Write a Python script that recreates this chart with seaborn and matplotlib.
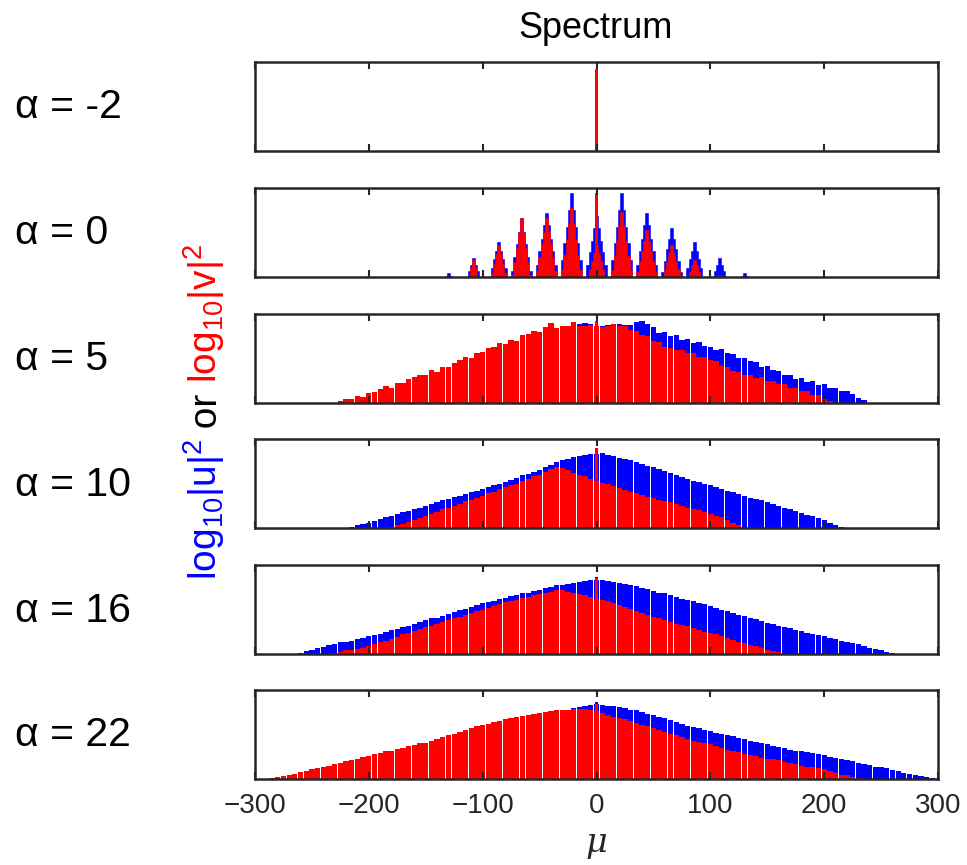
import numpy as np
import pandas as pd
import matplotlib
matplotlib.use("Agg")
import matplotlib.pyplot as plt
import seaborn as sns

sns.set_theme(style="white")
plt.rcParams["font.family"] = ["Liberation Sans", "DejaVu Sans"]
plt.rcParams["mathtext.default"] = "regular"
plt.rcParams["axes.unicode_minus"] = True

# ---------------- data (heights as fraction of the panel's log-scale range) ---------------
alpha_labels = ["α = -2", "α = 0", "α = 5", "α = 10", "α = 16", "α = 22"]
x_ticks = [-300, -200, -100, 0, 100, 200, 300]

# narrow central line at mu = 0 in every panel
spike_u = [0.0, 0.0, 0.0, 0.0, 0.87, 0.86]
spike_v = [0.92, 0.94, 0.92, 0.90, 0.85, 0.84]

# alpha = 0 : comb spectrum, 2-unit grid starting at mu = -134
comb_start = -134
comb_step = 2
u_a0 = [0, 0.01, 0.04, 0.01, 0, 0, 0, 0, 0, 0,
        0, 0.07, 0.14, 0.21, 0.14, 0.07, 0, 0, 0, 0,
        0, 0.10, 0.20, 0.29, 0.39, 0.29, 0.20, 0.10, 0, 0,
        0.07, 0.22, 0.37, 0.51, 0.66, 0.51, 0.37, 0.22, 0.07, 0,
        0, 0.14, 0.29, 0.43, 0.58, 0.72, 0.58, 0.43, 0.29, 0.14,
        0, 0, 0.19, 0.38, 0.56, 0.75, 0.94, 0.75, 0.56, 0.38,
        0.19, 0, 0, 0.14, 0.28, 0.41, 0.55, 0.69, 0.55, 0.41,
        0.28, 0.14, 0, 0, 0.19, 0.38, 0.56, 0.75, 0.94, 0.75,
        0.56, 0.38, 0.19, 0, 0, 0.14, 0.29, 0.43, 0.58, 0.72,
        0.58, 0.43, 0.29, 0.14, 0, 0, 0.06, 0.18, 0.31, 0.43,
        0.55, 0.43, 0.31, 0.18, 0.06, 0, 0, 0.10, 0.20, 0.29,
        0.39, 0.29, 0.20, 0.10, 0, 0, 0, 0, 0, 0.07,
        0.14, 0.21, 0.14, 0.07, 0, 0, 0, 0, 0, 0,
        0, 0.01, 0.04, 0.01, 0]
v_a0 = [0, 0, 0, 0, 0, 0, 0, 0, 0, 0,
        0, 0, 0.10, 0.19, 0.10, 0, 0, 0, 0, 0,
        0, 0.05, 0.15, 0.26, 0.36, 0.26, 0.15, 0.05, 0, 0,
        0.02, 0.17, 0.33, 0.50, 0.66, 0.50, 0.33, 0.17, 0.02, 0,
        0, 0.07, 0.22, 0.37, 0.51, 0.66, 0.51, 0.37, 0.22, 0.07,
        0, 0, 0.08, 0.25, 0.43, 0.60, 0.77, 0.60, 0.43, 0.25,
        0.08, 0, 0, 0, 0.09, 0.18, 0.27, 0.36, 0.27, 0.18,
        0.09, 0, 0, 0, 0.08, 0.24, 0.41, 0.57, 0.73, 0.57,
        0.41, 0.24, 0.08, 0, 0, 0.06, 0.18, 0.29, 0.41, 0.53,
        0.41, 0.29, 0.18, 0.06, 0, 0, 0, 0.09, 0.18, 0.27,
        0.36, 0.27, 0.18, 0.09, 0, 0, 0, 0, 0.06, 0.13,
        0.19, 0.13, 0.06, 0, 0, 0, 0, 0, 0, 0,
        0, 0.02, 0, 0, 0, 0, 0, 0, 0, 0,
        0, 0, 0, 0, 0]

# alpha = 5, 10, 16, 22 : 5-unit grid
spec_step = 5
u_a5_start = -220
u_a5 = [0.01, 0.02, 0.04, 0.05, 0.07, 0.10, 0.12, 0.15, 0.16, 0.19,
        0.21, 0.23, 0.26, 0.28, 0.30, 0.33, 0.34, 0.37, 0.39, 0.41,
        0.45, 0.48, 0.50, 0.52, 0.55, 0.58, 0.61, 0.63, 0.65, 0.67,
        0.68, 0.72, 0.75, 0.77, 0.79, 0.81, 0.84, 0.83, 0.84, 0.86,
        0.88, 0.89, 0.90, 0.89, 0.87, 0.87, 0.88, 0.89, 0.89, 0.88,
        0.88, 0.91, 0.92, 0.89, 0.85, 0.79, 0.80, 0.75, 0.76, 0.71,
        0.72, 0.67, 0.68, 0.64, 0.63, 0.60, 0.61, 0.56, 0.55, 0.51,
        0.50, 0.47, 0.46, 0.41, 0.42, 0.37, 0.36, 0.32, 0.31, 0.27,
        0.28, 0.24, 0.25, 0.20, 0.21, 0.17, 0.17, 0.14, 0.14, 0.10,
        0.06, 0.03]
v_a5_start = -225
v_a5 = [0.02, 0.05, 0.04, 0.08, 0.07, 0.11, 0.12, 0.16, 0.19, 0.17,
        0.23, 0.22, 0.27, 0.29, 0.32, 0.31, 0.37, 0.35, 0.41, 0.40,
        0.45, 0.48, 0.52, 0.51, 0.56, 0.57, 0.62, 0.63, 0.67, 0.66,
        0.71, 0.70, 0.76, 0.78, 0.81, 0.80, 0.85, 0.90, 0.84, 0.86,
        0.87, 0.91, 0.87, 0.86, 0.88, 0.87, 0.85, 0.87, 0.89, 0.86,
        0.86, 0.82, 0.81, 0.76, 0.75, 0.70, 0.68, 0.63, 0.62, 0.59,
        0.59, 0.56, 0.56, 0.52, 0.52, 0.48, 0.47, 0.42, 0.41, 0.36,
        0.35, 0.31, 0.32, 0.28, 0.29, 0.25, 0.25, 0.21, 0.21, 0.17,
        0.17, 0.13, 0.13, 0.09, 0.09, 0.05, 0.02]

u_a10_start = -215
u_a10 = [0.01, 0.03, 0.04, 0.06, 0.08, 0.10, 0.12, 0.14, 0.16, 0.18,
         0.19, 0.21, 0.23, 0.25, 0.27, 0.29, 0.31, 0.33, 0.35, 0.36,
         0.38, 0.40, 0.42, 0.44, 0.46, 0.48, 0.50, 0.52, 0.54, 0.56,
         0.59, 0.61, 0.63, 0.65, 0.68, 0.71, 0.74, 0.76, 0.78, 0.80,
         0.81, 0.82, 0.83, 0.83, 0.84, 0.82, 0.81, 0.79, 0.77, 0.76,
         0.74, 0.72, 0.70, 0.68, 0.66, 0.64, 0.62, 0.60, 0.57, 0.55,
         0.53, 0.52, 0.50, 0.48, 0.46, 0.44, 0.42, 0.40, 0.38, 0.36,
         0.34, 0.33, 0.31, 0.29, 0.27, 0.25, 0.23, 0.21, 0.19, 0.17,
         0.15, 0.13, 0.11, 0.09, 0.06, 0.03, 0.01]
v_a10_start = -180
v_a10 = [0.01, 0.03, 0.05, 0.07, 0.09, 0.11, 0.14, 0.16, 0.18, 0.21,
         0.23, 0.25, 0.27, 0.30, 0.32, 0.34, 0.36, 0.39, 0.41, 0.44,
         0.46, 0.48, 0.50, 0.53, 0.55, 0.58, 0.60, 0.63, 0.66, 0.69,
         0.67, 0.65, 0.62, 0.60, 0.58, 0.55, 0.53, 0.51, 0.49, 0.47,
         0.45, 0.43, 0.41, 0.39, 0.37, 0.35, 0.34, 0.32, 0.30, 0.29,
         0.27, 0.25, 0.23, 0.21, 0.20, 0.18, 0.16, 0.14, 0.12, 0.09,
         0.06, 0.03]

u_a16_start = -260
u_a16 = [0.01, 0.03, 0.05, 0.07, 0.08, 0.10, 0.11, 0.13, 0.14, 0.15,
         0.17, 0.18, 0.20, 0.21, 0.23, 0.25, 0.27, 0.28, 0.30, 0.32,
         0.34, 0.36, 0.38, 0.40, 0.41, 0.43, 0.45, 0.47, 0.49, 0.51,
         0.53, 0.55, 0.57, 0.58, 0.60, 0.62, 0.63, 0.65, 0.66, 0.68,
         0.69, 0.71, 0.72, 0.74, 0.75, 0.77, 0.78, 0.79, 0.80, 0.81,
         0.82, 0.83, 0.83, 0.83, 0.82, 0.81, 0.80, 0.79, 0.77, 0.76,
         0.74, 0.73, 0.71, 0.69, 0.68, 0.66, 0.64, 0.62, 0.61, 0.59,
         0.57, 0.56, 0.54, 0.52, 0.50, 0.48, 0.46, 0.44, 0.43, 0.41,
         0.39, 0.37, 0.35, 0.34, 0.32, 0.30, 0.29, 0.27, 0.26, 0.24,
         0.23, 0.21, 0.20, 0.18, 0.17, 0.15, 0.14, 0.12, 0.11, 0.09,
         0.07, 0.06, 0.04, 0.02, 0.01]
v_a16_start = -230
v_a16 = [0.01, 0.02, 0.04, 0.05, 0.06, 0.07, 0.09, 0.11, 0.13, 0.15,
         0.17, 0.19, 0.22, 0.24, 0.26, 0.28, 0.30, 0.32, 0.34, 0.36,
         0.38, 0.40, 0.42, 0.44, 0.46, 0.48, 0.50, 0.52, 0.54, 0.56,
         0.58, 0.59, 0.61, 0.63, 0.64, 0.66, 0.67, 0.69, 0.70, 0.72,
         0.72, 0.70, 0.69, 0.67, 0.66, 0.64, 0.62, 0.61, 0.59, 0.57,
         0.55, 0.53, 0.51, 0.48, 0.46, 0.44, 0.42, 0.40, 0.38, 0.36,
         0.34, 0.33, 0.31, 0.29, 0.27, 0.25, 0.24, 0.22, 0.20, 0.18,
         0.16, 0.14, 0.12, 0.10, 0.09, 0.07, 0.05, 0.03, 0.02]

u_a22_start = -285
u_a22 = [0.01, 0.01, 0.02, 0.04, 0.05, 0.07, 0.08, 0.10, 0.11, 0.13,
         0.14, 0.16, 0.17, 0.19, 0.20, 0.22, 0.24, 0.25, 0.27, 0.28,
         0.30, 0.31, 0.33, 0.34, 0.36, 0.37, 0.39, 0.40, 0.42, 0.44,
         0.46, 0.48, 0.50, 0.52, 0.54, 0.56, 0.58, 0.60, 0.61, 0.63,
         0.64, 0.66, 0.67, 0.69, 0.70, 0.71, 0.72, 0.73, 0.74, 0.75,
         0.76, 0.77, 0.78, 0.80, 0.81, 0.82, 0.83, 0.84, 0.83, 0.82,
         0.82, 0.81, 0.80, 0.78, 0.77, 0.75, 0.73, 0.72, 0.70, 0.68,
         0.66, 0.64, 0.62, 0.60, 0.58, 0.57, 0.55, 0.54, 0.52, 0.51,
         0.49, 0.48, 0.46, 0.45, 0.43, 0.42, 0.40, 0.39, 0.37, 0.36,
         0.35, 0.33, 0.32, 0.31, 0.30, 0.29, 0.28, 0.27, 0.25, 0.24,
         0.23, 0.21, 0.20, 0.18, 0.17, 0.16, 0.14, 0.13, 0.12, 0.10,
         0.09, 0.07, 0.06, 0.04, 0.03, 0.02, 0.01]
v_a22_start = -285
v_a22 = [0.01, 0.02, 0.03, 0.05, 0.06, 0.08, 0.09, 0.11, 0.12, 0.14,
         0.15, 0.17, 0.18, 0.20, 0.21, 0.23, 0.25, 0.26, 0.28, 0.29,
         0.31, 0.32, 0.34, 0.35, 0.37, 0.38, 0.40, 0.41, 0.43, 0.45,
         0.47, 0.49, 0.51, 0.53, 0.55, 0.57, 0.59, 0.61, 0.62, 0.64,
         0.65, 0.67, 0.68, 0.70, 0.71, 0.72, 0.73, 0.74, 0.75, 0.76,
         0.77, 0.78, 0.78, 0.79, 0.79, 0.79, 0.78, 0.76, 0.74, 0.72,
         0.70, 0.69, 0.67, 0.65, 0.63, 0.61, 0.59, 0.57, 0.55, 0.53,
         0.51, 0.49, 0.47, 0.45, 0.43, 0.42, 0.40, 0.39, 0.37, 0.35,
         0.33, 0.31, 0.30, 0.28, 0.27, 0.26, 0.24, 0.23, 0.22, 0.21,
         0.19, 0.18, 0.17, 0.15, 0.14, 0.13, 0.12, 0.11, 0.09, 0.07,
         0.05, 0.04, 0.02, 0.01]

panels = [
    None,
    (comb_start, comb_step, u_a0, comb_start, comb_step, v_a0),
    (u_a5_start, spec_step, u_a5, v_a5_start, spec_step, v_a5),
    (u_a10_start, spec_step, u_a10, v_a10_start, spec_step, v_a10),
    (u_a16_start, spec_step, u_a16, v_a16_start, spec_step, v_a16),
    (u_a22_start, spec_step, u_a22, v_a22_start, spec_step, v_a22),
]

BLUE = (0, 0, 1)
RED = (1, 0, 0)
FRAME = "#262626"


def draw_series(ax, start, step, vals, color, shrink, lw):
    mu = start + step * np.arange(len(vals))
    df = pd.DataFrame({"mu": mu.astype(float), "val": vals})
    lo = mu[0] - step / 2
    hi = mu[-1] + step / 2
    sns.histplot(data=df, x="mu", weights="val", binwidth=step,
                 binrange=(lo, hi), ax=ax,
                 color=color, alpha=1, linewidth=lw, edgecolor=color,
                 shrink=shrink, element="bars", fill=True, stat="count")


fig = plt.figure(figsize=(9.67, 8.65), dpi=100)
W, H = 967.0, 865.0
left_px, right_px = 255, 938
tops = [62, 188, 314, 439, 565, 690]
ph = 89

axes = []
for i in range(6):
    ax = fig.add_axes([left_px / W, 1 - (tops[i] + ph) / H,
                       (right_px - left_px) / W, ph / H])
    axes.append(ax)
    p = panels[i]
    if p is not None:
        us, ust, uv, vs, vst, vv = p
        if ust == 2:
            shrink, lw = 1.0, 0.4
        else:
            shrink, lw = 0.93, 0
        draw_series(ax, us, ust, uv, BLUE, shrink, lw)
        draw_series(ax, vs, vst, vv, RED, shrink, lw)
    if spike_u[i] > 0:
        ax.bar([0], [spike_u[i]], width=2.2, color=BLUE, linewidth=0)
    ax.bar([0], [spike_v[i]], width=1.9, color=RED, linewidth=0)

    ax.set_xlim(-300, 300)
    ax.set_ylim(0, 1)
    ax.set_yticks([])
    ax.set_xticks(x_ticks)
    ax.set_axisbelow(False)
    ax.tick_params(axis="x", direction="in", length=5, width=1.5,
                   top=True, bottom=True, color=FRAME,
                   labelbottom=(i == 5), labelsize=20, labelcolor=FRAME, pad=10)
    ax.set_xlabel("")
    ax.set_ylabel("")
    for s in ax.spines.values():
        s.set_visible(True)
        s.set_linewidth(1.8)
        s.set_color(FRAME)
    # row label
    fig.text(15 / W, 1 - (tops[i] + ph / 2 + 1) / H, alpha_labels[i],
             fontsize=29.5, ha="left", va="center", color="black")

axes[5].set_xlabel("μ", fontsize=24, fontstyle="italic", color=FRAME,
                   labelpad=6, family=["DejaVu Serif"])
fig.text(596 / W, 1 - 28 / H, "Spectrum", fontsize=26, ha="center",
         va="center", color="black")

# multi-colour rotated y label
parts = [(r"log$_{10}$|u|$^{2}$", BLUE), (" or ", "black"),
         (r"log$_{10}$|v|$^{2}$", RED)]
fig.canvas.draw()
renderer = fig.canvas.get_renderer()
texts = []
lengths = []
for s, c in parts:
    t = fig.text(0, 0, s, rotation=90, rotation_mode="anchor", ha="left",
                 va="baseline", fontsize=28, color=c)
    bb = t.get_window_extent(renderer)
    lengths.append(bb.height / fig.bbox.height)
    texts.append(t)
total = sum(lengths)
y = (1 - 412 / H) - total / 2
xb = 217 / W
for t, L in zip(texts, lengths):
    t.set_position((xb, y))
    y += L

fig.savefig("out.png", dpi=100)
